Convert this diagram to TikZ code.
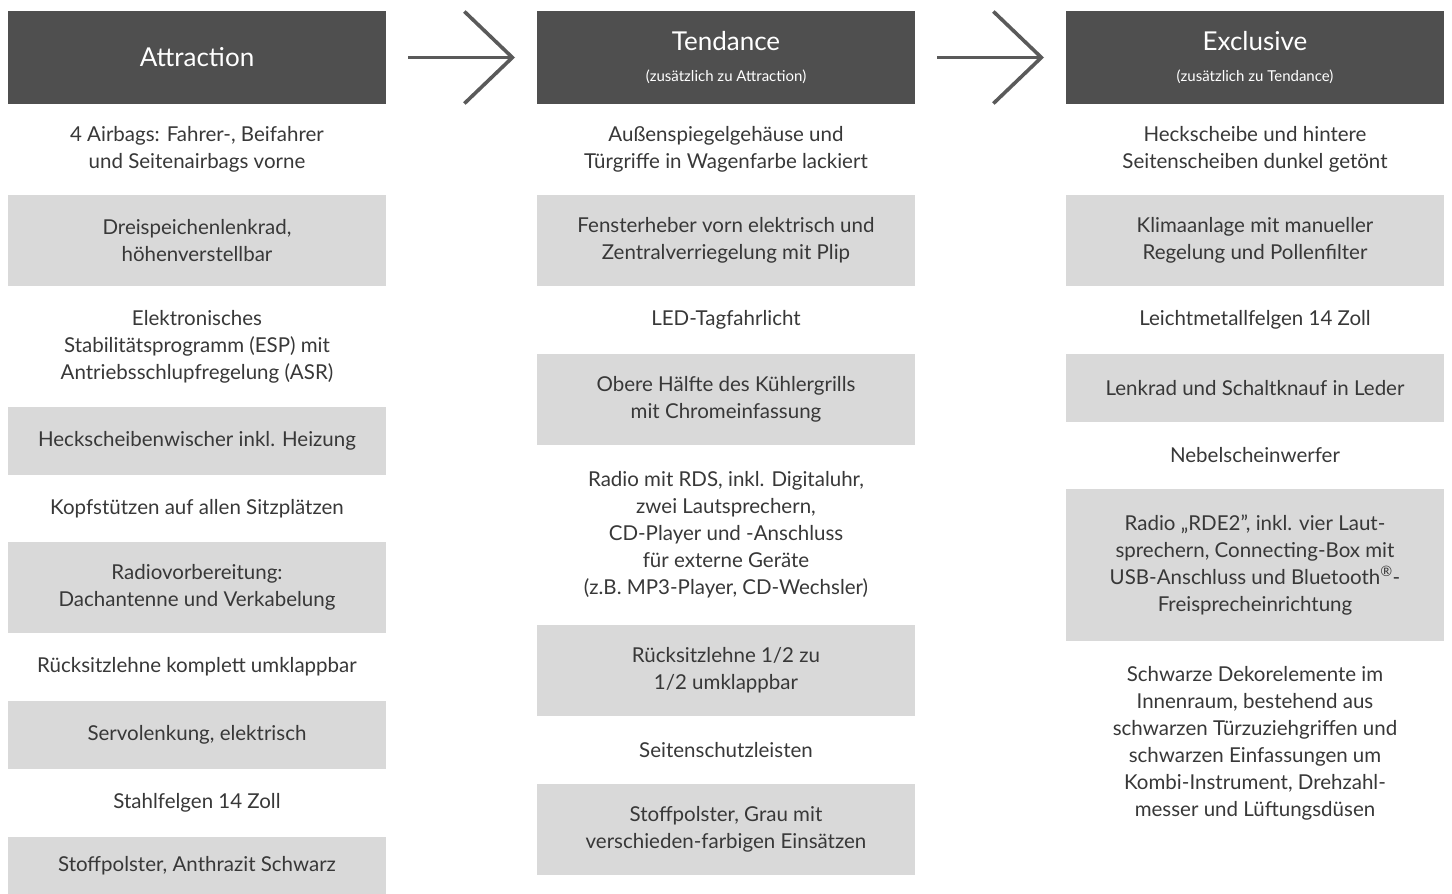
\documentclass[tikz,border=0pt]{standalone}
\usepackage{fontspec}
\setmainfont{Lato}
\usetikzlibrary{arrows.meta}
\definecolor{headgray}{HTML}{4F4F4F}
\definecolor{rowgray}{HTML}{D9D9D9}
\definecolor{inkgray}{HTML}{383838}
\definecolor{arrowgray}{HTML}{5A5A5A}
\begin{document}
\begin{tikzpicture}[x=1pt,y=-1pt,
    headbox/.style={fill=headgray,minimum width=378pt,minimum height=93pt,inner sep=0pt,outer sep=0pt,text=white,font=\fontsize{26}{30}\selectfont},
    headtitle/.style={text=white,inner sep=0pt,font=\fontsize{26}{30}\selectfont},
    headsub/.style={text=white,inner sep=0pt,font=\fontsize{15}{18}\selectfont},
    cell/.style={minimum width=378pt,inner sep=0pt,outer sep=0pt,align=center,text=inkgray,font=\fontsize{20.5}{27}\selectfont},
    nextarrow/.style={-{Straight Barb[length=48pt,width=92pt]},line width=3.6pt,draw=arrowgray,shorten <=22pt,shorten >=22pt}]
\useasboundingbox (0,0) rectangle (1452,894);

\node[headbox] (att-h) at (197,57.5) {Attraction};
\node[headbox] (ten-h) at (726,57.5) {};
\node[headbox] (exc-h) at (1255,57.5) {};
\node[headtitle] (ten-title) at (726,41) {Tendance};
\node[headsub] (ten-sub) at (726,77) {(zusätzlich zu Attraction)};
\node[headtitle] (exc-title) at (1255,41) {Exclusive};
\node[headsub] (exc-sub) at (1255,77) {(zusätzlich zu Tendance)};

\draw[nextarrow] (att-h) -- (ten-h);
\draw[nextarrow] (ten-h) -- (exc-h);

\foreach \t/\b/\f/\txt [count=\i] in {
    104/195/white/{4 Airbags: Fahrer-, Beifahrer\\und Seitenairbags vorne},
    195/286/rowgray/{Dreispeichenlenkrad,\\höhenverstellbar},
    286/407/white/{Elektronisches\\Stabilitätsprogramm (ESP) mit\\Antriebsschlupfregelung (ASR)},
    407/475/rowgray/{Heckscheibenwischer inkl. Heizung},
    475/542/white/{Kopfstützen auf allen Sitzplätzen},
    542/633/rowgray/{Radiovorbereitung:\\Dachantenne und Verkabelung},
    633/701/white/{Rücksitzlehne komplett umklappbar},
    701/769/rowgray/{Servolenkung, elektrisch},
    769/837/white/{Stahlfelgen 14 Zoll},
    837/894/rowgray/{Stoffpolster, Anthrazit Schwarz}}
{
    \node[cell,fill=\f,minimum height={\b-\t}] (att-\i) at (197,{(\t+\b)/2}) {\txt};
}

\foreach \t/\b/\f/\txt [count=\i] in {
    104/195/white/{Außenspiegelgehäuse und\\Türgriffe in Wagenfarbe lackiert},
    195/286/rowgray/{Fensterheber vorn elektrisch und\\Zentralverriegelung mit Plip},
    286/354/white/{LED-Tagfahrlicht},
    354/445/rowgray/{Obere Hälfte des Kühlergrills\\mit Chromeinfassung},
    445/625/white/{Radio mit RDS, inkl. Digitaluhr,\\zwei Lautsprechern,\\CD-Player und -Anschluss\\für externe Geräte\\(z.B. MP3-Player, CD-Wechsler)},
    625/716/rowgray/{Rücksitzlehne 1/2 zu\\1/2 umklappbar},
    716/784/white/{Seitenschutzleisten},
    784/875/rowgray/{Stoffpolster, Grau mit\\verschieden-farbigen Einsätzen}}
{
    \node[cell,fill=\f,minimum height={\b-\t}] (ten-\i) at (726,{(\t+\b)/2}) {\txt};
}

\foreach \t/\b/\f/\txt [count=\i] in {
    104/195/white/{Heckscheibe und hintere\\Seitenscheiben dunkel getönt},
    195/286/rowgray/{Klimaanlage mit manueller\\Regelung und Pollenfilter},
    286/354/white/{Leichtmetallfelgen 14 Zoll},
    354/422/rowgray/{Lenkrad und Schaltknauf in Leder},
    422/489/white/{Nebelscheinwerfer},
    489/641/rowgray/{Radio „RDE2”, inkl. vier Laut-\\sprechern, Connecting-Box mit\\USB-Anschluss und Bluetooth\textsuperscript{®}-\\Freisprecheinrichtung},
    641/845/white/{Schwarze Dekorelemente im\\Innenraum, bestehend aus\\schwarzen Türzuziehgriffen und\\schwarzen Einfassungen um\\Kombi-Instrument, Drehzahl-\\messer und Lüftungsdüsen}}
{
    \node[cell,fill=\f,minimum height={\b-\t}] (exc-\i) at (1255,{(\t+\b)/2}) {\txt};
}
\end{tikzpicture}
\end{document}
